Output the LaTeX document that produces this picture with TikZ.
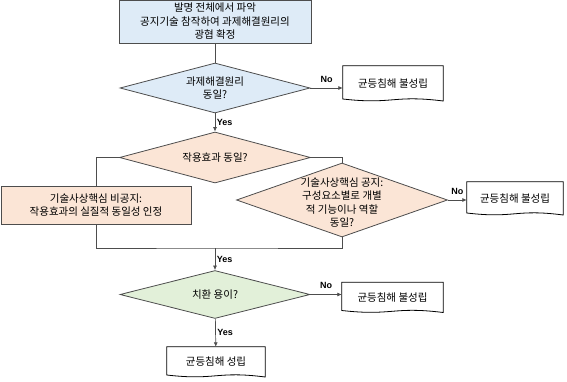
\documentclass[tikz,border=0pt]{standalone}
\usepackage{fontspec}
\setmainfont{Noto Sans CJK KR}
\newfontfamily\yesnofont{Liberation Sans}
\usetikzlibrary{shapes.geometric,arrows.meta}

\definecolor{procblue}{HTML}{DEEBF7}
\definecolor{procpeach}{HTML}{FBE5D6}
\definecolor{procgreen}{HTML}{E2F0D9}
\definecolor{edgegray}{HTML}{4D4D4D}

\begin{document}
\begin{tikzpicture}[x=1pt, y=-1pt,
  every node/.style={font=\fontsize{10.5}{13.5}\selectfont, align=center},
  proc/.style={rectangle, draw=edgegray, line width=0.8pt, inner sep=0pt},
  decision/.style={diamond, aspect=2.8, draw=edgegray, line width=0.8pt, inner xsep=-20pt, inner ysep=-10pt},
  docbox/.style={rectangle, inner sep=0pt},
  link/.style={draw=edgegray, line width=0.7pt},
  flow/.style={link, -{Latex[length=4.5pt,width=4pt]}},
  yesno/.style={font=\yesnofont\bfseries\fontsize{9}{10}\selectfont, inner sep=1.5pt}]
\useasboundingbox (0,0) rectangle (567,382);

% boxes and decisions
\node[proc, fill=procblue, minimum width=192, minimum height=43] (scope) at (215,21.5)
  {발명 전체에서 파악\\공지기술 참작하여 과제해결원리의\\광협 확정};
\node[decision, fill=procblue, minimum width=190, minimum height=50] (principle) at (215,88)
  {과제해결원리\\동일?};
\node[decision, fill=procpeach, minimum width=191, minimum height=51] (effect) at (215,157.5)
  {작용효과 동일?};
\node[proc, fill=procpeach, minimum width=190, minimum height=38] (nonpub) at (96,205)
  {기술사상핵심 비공지:\\작용효과의 실질적 동일성 인정};
\node[decision, fill=procpeach, minimum width=211, minimum height=74] (public) at (342,200)
  {\mbox{}\\기술사상핵심 공지:\\구성요소별로 개별\\적 기능이나 역할\\동일?};
\node[decision, fill=procgreen, minimum width=190, minimum height=48] (replace) at (215,294.5)
  {치환 용이?};

% document shaped results
\node[docbox, minimum width=100, minimum height=35] (fail1) at (393,83.5) {균등침해 불성립};
\node[docbox, minimum width=96, minimum height=33] (fail2) at (515,198.5) {균등침해 불성립};
\node[docbox, minimum width=101, minimum height=30] (fail3) at (392.5,297.5) {균등침해 불성립};
\node[docbox, minimum width=98, minimum height=30] (holds) at (216,362) {균등침해 성립};
\foreach \n in {fail1,fail2,fail3,holds}
  \draw[line width=0.8pt] (\n.north west) -- (\n.north east) -- ([yshift=0.2*\pgfkeysvalueof{/pgf/minimum height}]\n.south east)
    .. controls ([yshift=6.5pt]\n.south) and ([yshift=-3.5pt]\n.south) .. ([yshift=2.2pt]\n.south west) -- cycle;

\coordinate (join) at (215,248);

% connectors
\draw[link] (scope) -- (principle);
\draw[flow] (principle.east) -- node[yesno, above=4pt] {No} (principle.east -| fail1.west);
\draw[flow] (principle) -- node[yesno, right] {Yes} (effect);
\draw[link] (effect.west) -| (nonpub.north);
\draw[link] (effect.east) -| (public.north);
\draw[link] (nonpub.south) |- (join) -| (public.south);
\draw[flow] (public.east) -- node[yesno, above=4pt] {No} (public.east -| fail2.west);
\draw[flow] (join) -- node[yesno, right] {Yes} (replace);
\draw[flow] (replace.east) -- node[yesno, above=4pt] {No} (replace.east -| fail3.west);
\draw[flow] (replace) -- node[yesno, right] {Yes} (holds);
\end{tikzpicture}
\end{document}
